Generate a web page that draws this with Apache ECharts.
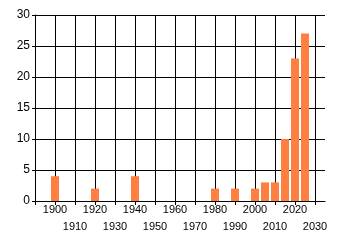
<!DOCTYPE html>
<html><head><meta charset="utf-8">
<script src="https://cdn.jsdelivr.net/npm/echarts@6/dist/echarts.min.js"></script>
<style>html,body{margin:0;padding:0;background:#fff}#c{width:340px;height:245px}</style>
</head><body><div id="c"></div>
<script>
const years = [1900, 1920, 1940, 1980, 1990, 2000, 2005, 2010, 2015, 2020, 2025];
const counts = [4, 2, 4, 2, 2, 2, 3, 3, 10, 23, 27];
const yTicks = [0, 5, 10, 15, 20, 25, 30];
const xMin = 1890, xMax = 2030, xEnd = 2035;

const font = {fontFamily: 'Liberation Sans', fontSize: 11, color: '#000'};
const chart = echarts.init(document.getElementById('c'), null, {renderer: 'canvas'});
const labelAxis = (row, offset) => ({
  gridIndex: 1, type: 'value', position: 'bottom', min: xMin, max: xMax, interval: 10, offset: offset,
  axisLine: {show: false, onZero: false}, axisTick: {show: false}, splitLine: {show: false},
  axisLabel: Object.assign({margin: 3, showMinLabel: true, showMaxLabel: true, hideOverlap: false,
    formatter: v => (v !== xMin && ((v - 1900) / 10) % 2 === row) ? String(v) : ''}, font)
});
chart.setOption({
  animation: false,
  grid: [
    {left: 35, right: 15, top: 15, bottom: 44, containLabel: false, outerBoundsMode: 'none'},
    {left: 35, right: 25, top: 15, bottom: 44, containLabel: false, outerBoundsMode: 'none'}
  ],
  xAxis: [
    {gridIndex: 0, type: 'value', position: 'bottom', min: xMin, max: xEnd, show: true,
      axisLine: {show: true, onZero: false, lineStyle: {color: '#000', width: 1}},
      axisTick: {show: false}, axisLabel: {show: false}, splitLine: {show: false}},
    {gridIndex: 1, type: 'value', position: 'bottom', min: xMin, max: xMax, interval: 10, offset: 0,
      axisLine: {show: false, onZero: false},
      axisTick: {show: true, length: 4, lineStyle: {color: '#000'}},
      splitLine: {show: true, lineStyle: {color: '#000', width: 1}},
      axisLabel: {show: false}},
    labelAxis(0, 0),
    labelAxis(1, 17)
  ],
  yAxis: [
    {gridIndex: 0, type: 'value', min: yTicks[0], max: yTicks[yTicks.length - 1], interval: 5,
      axisLine: {show: true, lineStyle: {color: '#000'}},
      axisTick: {show: true, length: 3, lineStyle: {color: '#000'}},
      splitLine: {show: true, lineStyle: {color: '#000', width: 1}},
      axisLabel: Object.assign({margin: 5}, font, {fontSize: 12})},
    {gridIndex: 1, type: 'value', min: yTicks[0], max: yTicks[yTicks.length - 1], interval: 5, show: false}
  ],
  series: [{
    type: 'bar', xAxisIndex: 1, yAxisIndex: 1,
    barWidth: 8,
    itemStyle: {color: '#FF7F40'},
    data: years.map((y, i) => [y, counts[i]])
  }]
});
</script></body></html>
